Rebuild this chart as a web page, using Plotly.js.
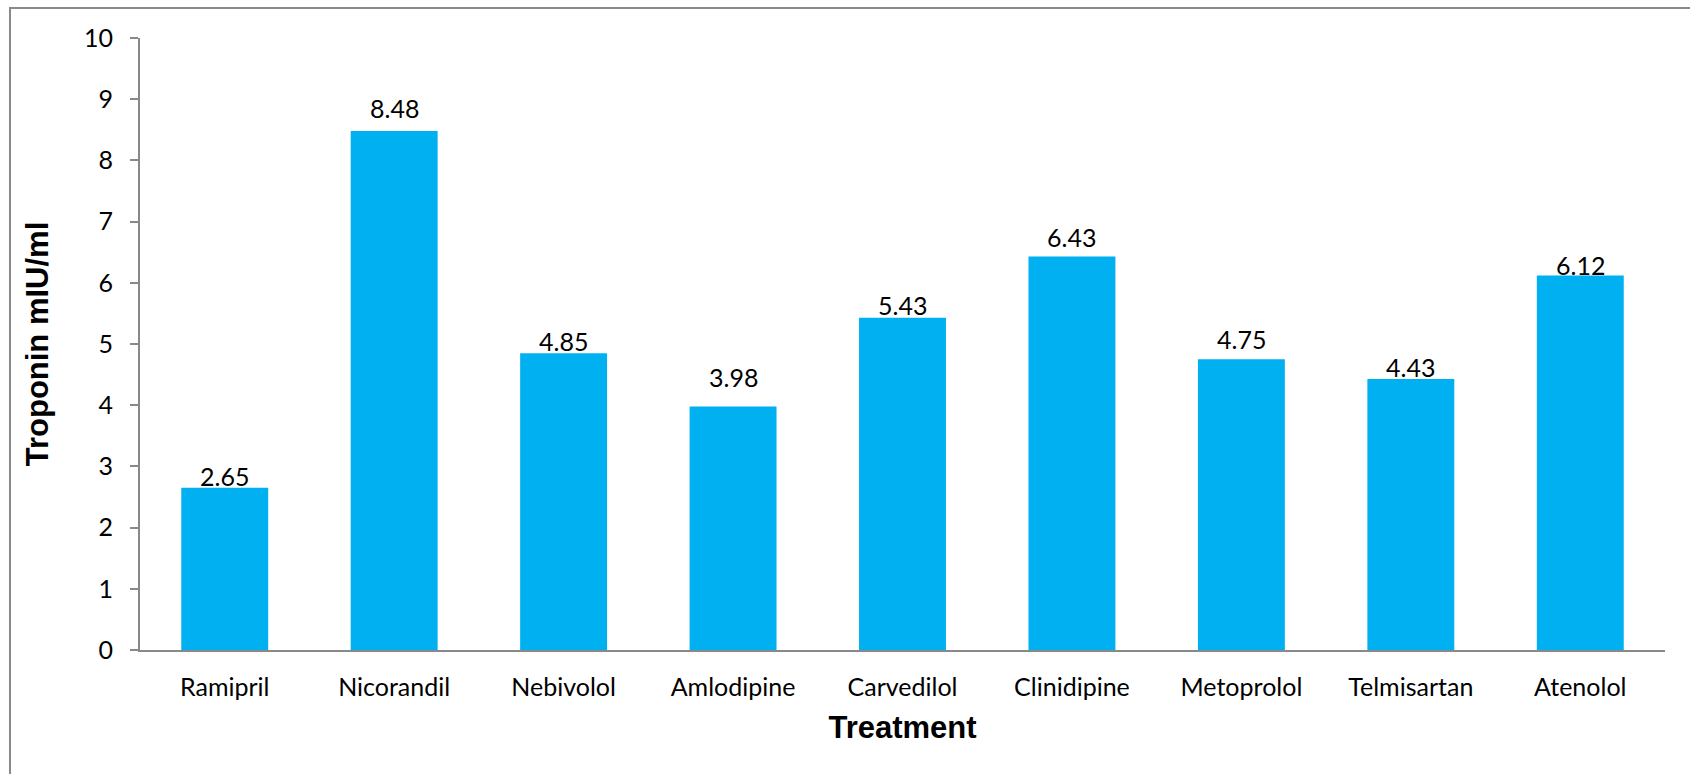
<!DOCTYPE html>
<html>
<head>
<meta charset="utf-8">
<script src="https://cdn.plot.ly/plotly-3.0.1.min.js"></script>
<style>
  html, body { margin: 0; padding: 0; background: #ffffff; }
  #chart { width: 1690px; height: 774px; }
</style>
</head>
<body>
<div id="chart"></div>
<script>
// Mean troponin level per treatment group
const treatments = ['Ramipril', 'Nicorandil', 'Nebivolol', 'Amlodipine', 'Carvedilol',
                    'Clinidipine', 'Metoprolol', 'Telmisartan', 'Atenolol'];
const troponin = [2.65, 8.48, 4.85, 3.98, 5.43, 6.43, 4.75, 4.43, 6.12];
const yTicks = [0, 1, 2, 3, 4, 5, 6, 7, 8, 9, 10];

// Extra lift (px) of each value label above its bar
const labelLift = [0, 11, 0, 17, 1, 7, 8, 0, -2];

const gray = '#898989';
const labelFont = { family: 'Lato, "Open Sans", sans-serif', size: 25, color: '#000000' };

const trace = {
  type: 'bar',
  x: treatments,
  y: troponin,
  marker: { color: '#00B0F0', line: { width: 0 } },
  hoverinfo: 'x+y'
};

const annotations = troponin.map((v, i) => ({
  x: treatments[i],
  y: v,
  xref: 'x',
  yref: 'y',
  text: v.toFixed(2),
  showarrow: false,
  yanchor: 'bottom',
  yshift: labelLift[i] - 4,
  borderpad: 0,
  font: labelFont
}));

const layout = {
  width: 1690,
  height: 774,
  margin: { l: 140, r: 25, t: 38, b: 124, pad: 0 },
  paper_bgcolor: '#ffffff',
  plot_bgcolor: '#ffffff',
  showlegend: false,
  bargap: 0.487,
  xaxis: {
    type: 'category',
    showline: true,
    linecolor: gray,
    linewidth: 2,
    ticks: '',
    showgrid: false,
    zeroline: false,
    ticklabelstandoff: 14,
    tickfont: labelFont,
    title: {
      text: 'Treatment',
      font: { family: '"Liberation Sans", Arial, sans-serif', size: 31, color: '#000000', weight: 'bold' },
      standoff: 16
    }
  },
  yaxis: {
    range: [0, 10],
    tickvals: yTicks,
    ticktext: yTicks.map(String),
    showline: true,
    linecolor: gray,
    linewidth: 2,
    ticks: 'outside',
    ticklen: 8,
    tickwidth: 2,
    tickcolor: gray,
    showgrid: false,
    zeroline: false,
    ticklabelstandoff: 12,
    tickfont: labelFont,
    title: {
      text: 'Troponin mIU/ml',
      font: { family: '"Liberation Sans", Arial, sans-serif', size: 31, color: '#000000', weight: 'bold' },
      standoff: 26
    }
  },
  annotations: annotations,
  shapes: [{
    // outer chart frame (left and top edges visible)
    type: 'rect',
    xref: 'paper', yref: 'paper',
    x0: -130 / 1525, x1: 1.2,
    y0: -0.5, y1: 642 / 612,
    line: { color: gray, width: 2 },
    fillcolor: 'rgba(0,0,0,0)',
    layer: 'below'
  }]
};

Plotly.newPlot('chart', [trace], layout, { displayModeBar: false, staticPlot: true });
</script>
</body>
</html>
